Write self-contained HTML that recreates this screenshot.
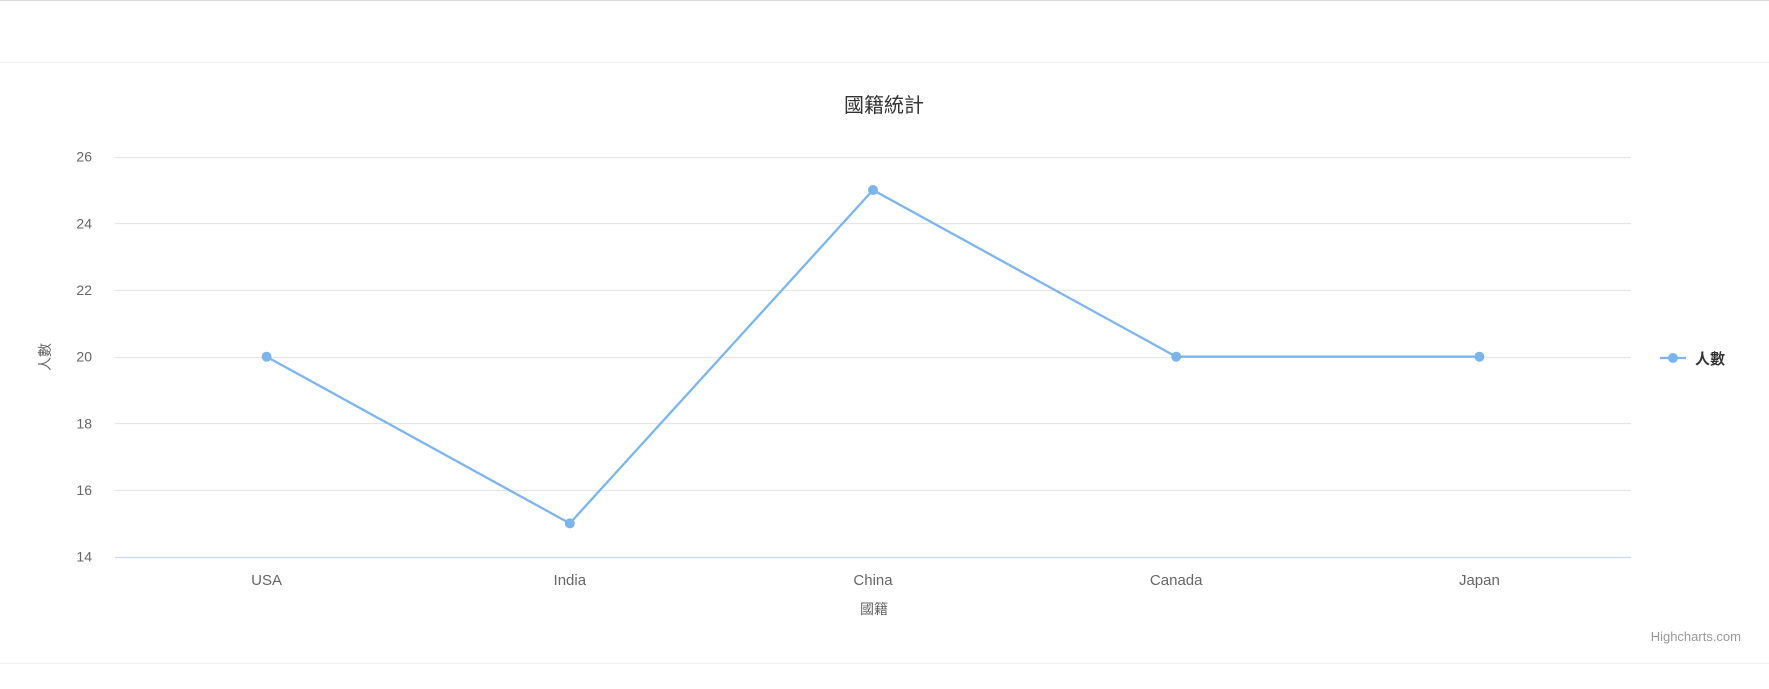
<!DOCTYPE html>
<html><head><meta charset="utf-8">
<style>
html,body{margin:0;padding:0;background:#fff;width:1769px;height:689px;overflow:hidden}
svg text{font-family:"Liberation Sans","Noto Sans CJK TC",sans-serif}
</style></head><body>
<svg id="chart" width="1769" height="689" xmlns="http://www.w3.org/2000/svg">
<rect x="0" y="0" width="1769" height="1" fill="#dcdcdc"/>
<rect x="0" y="62" width="1769" height="1" fill="#efefef"/>
<rect x="0" y="663" width="1769" height="1" fill="#efefef"/>
<text x="884" y="112" text-anchor="middle" font-size="20" fill="#333">國籍統計</text>
<g id="grid"></g><g id="yticks"></g><g id="xticks"></g><g id="series"></g>
<text x="874" y="614" text-anchor="middle" font-size="14" fill="#666">國籍</text>
<text transform="translate(50,357) rotate(-90)" text-anchor="middle" font-size="14" fill="#666">人數</text>
<g>
<line x1="1660" y1="358" x2="1686" y2="358" stroke="#7cb5ec" stroke-width="2.3"/>
<circle cx="1673" cy="358" r="5" fill="#7cb5ec"/>
<text x="1695" y="364" font-size="15" font-weight="bold" fill="#333">人數</text>
</g>
<text x="1741" y="641" text-anchor="end" font-size="13" fill="#999">Highcharts.com</text>
</svg>
<script>
const categories=["USA","India","China","Canada","Japan"];
const values=[20,15,25,20,20];
const yTicks=[14,16,18,20,22,24,26];
const NS="http://www.w3.org/2000/svg";
const L=115,R=1631,T=156.7,B=556.7,ymin=14,ymax=26;
function yS(v){return B-(v-ymin)/(ymax-ymin)*(B-T);}
function xS(i){const w=(R-L)/categories.length;return L+w*(i+0.5);}
function mk(tag,attrs,parent,txt){const e=document.createElementNS(NS,tag);for(const k in attrs)e.setAttribute(k,attrs[k]);if(txt!==undefined)e.textContent=txt;document.getElementById(parent).appendChild(e);return e;}
yTicks.forEach(t=>{
 const y=Math.round(yS(t))+0.5;
 const g=mk('line',{x1:L,x2:R,y1:y,y2:y,stroke:t===ymin?'#ccd6eb':'#e6e6e6','stroke-width':1.2},'grid');
 
 
 const lb=mk('text',{x:92,y:yS(t)+5,'text-anchor':'end','font-size':14,fill:'#666'},'yticks',String(t));
 
 
});
categories.forEach((c,i)=>{
 const lb=mk('text',{x:xS(i),y:585,'text-anchor':'middle','font-size':15,fill:'#666'},'xticks',c);
 
 
});
const pts=values.map((v,i)=>xS(i)+','+yS(v)).join(' ');
const pl=mk('polyline',{points:pts,fill:'none',stroke:'#7cb5ec','stroke-width':2.3,'stroke-linejoin':'round'},'series');


values.forEach((v,i)=>{
 const c=mk('circle',{cx:xS(i),cy:yS(v),r:5,fill:'#7cb5ec'},'series');
 
 
});
</script>
</body></html>
